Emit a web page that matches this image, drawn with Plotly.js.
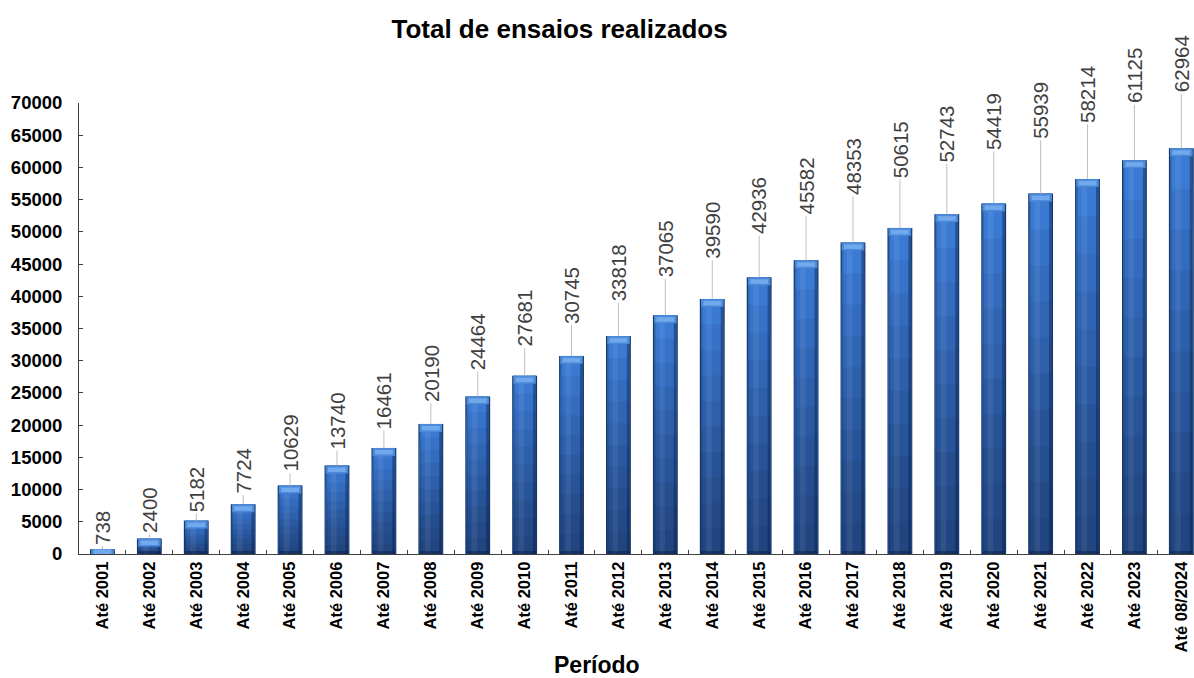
<!DOCTYPE html>
<html>
<head>
<meta charset="utf-8">
<script src="https://cdn.plot.ly/plotly-3.0.1.min.js"></script>
<style>html,body{margin:0;padding:0;background:#fff;}#chart{width:1194px;height:678px;}</style>
</head>
<body>
<div id="chart"></div>
<script>
const periods = ["Até 2001","Até 2002","Até 2003","Até 2004","Até 2005","Até 2006","Até 2007","Até 2008","Até 2009","Até 2010","Até 2011","Até 2012","Até 2013","Até 2014","Até 2015","Até 2016","Até 2017","Até 2018","Até 2019","Até 2020","Até 2021","Até 2022","Até 2023","Até 08/2024"];
const totals = [738,2400,5182,7724,10629,13740,16461,20190,24464,27681,30745,33818,37065,39590,42936,45582,48353,50615,52743,54419,55939,58214,61125,62964];
const yTicks = [0,5000,10000,15000,20000,25000,30000,35000,40000,45000,50000,55000,60000,65000,70000];

const font = "Liberation Sans, Arial, sans-serif";
const PX = 70000 / 451; // data units per pixel (approx) for bevel sizes

function layer(opts) {
  const t = {
    type: "bar", x: periods,
    y: totals.map(opts.y), width: opts.width,
    marker: {color: opts.color, line: {width: 0}},
    hoverinfo: "skip", showlegend: false
  };
  if (opts.base) t.base = totals.map(opts.base);
  if (opts.offset !== undefined) t.offset = opts.offset;
  return t;
}

const traces = [];
// dark outline
traces.push(layer({width: 0.53, color: "#163765", y: v => v}));
// body with vertical gradient (stepped)
const steps = [
  [1.00, "#3A7AD3"], [0.90, "#3672C8"], [0.80, "#336BBE"], [0.70, "#3065B4"],
  [0.60, "#2D5FAA"], [0.50, "#2A59A1"], [0.40, "#275398"], [0.30, "#254E8F"],
  [0.20, "#234987"], [0.10, "#214580"]
];
steps.forEach(([f, c]) => traces.push(layer({width: 0.48, color: c, y: v => v * f})));
// side shading
traces.push(layer({width: 0.06, offset: 0.18, color: "rgba(8,25,60,0.40)", y: v => v}));
traces.push(layer({width: 0.035, offset: -0.24, color: "rgba(8,25,60,0.18)", y: v => v}));
traces.push(layer({width: 0.12, offset: -0.13, color: "rgba(255,255,255,0.07)", y: v => v}));
// bottom bevel
traces.push(layer({width: 0.48, color: "rgba(12,35,75,0.55)", y: v => Math.min(v, 3 * PX)}));
// top bevel
traces.push(layer({width: 0.48, color: "#4C8AD9", base: v => Math.max(0, v - 8 * PX), y: v => Math.min(v, 8 * PX)}));
traces.push(layer({width: 0.38, color: "#72A9EC", base: v => Math.max(0, v - 6.5 * PX), y: v => Math.min(v, 4.5 * PX)}));

const annotations = totals.map((v, i) => {
  const gap = Math.min(54, 2 + v / 1100);
  const half = String(v).length * 5.7 + 2;
  return {
    x: periods[i], y: v, xref: "x", yref: "y",
    text: String(v), textangle: -90,
    showarrow: true, arrowhead: 0, arrowwidth: 1, arrowcolor: "#BFBFBF",
    ax: 0, ay: -(gap + half), standoff: 0,
    font: {family: font, size: 20.5, color: "#3F3F3F"}
  };
});
annotations.push({
  text: "Período", xref: "paper", yref: "paper", x: 0.4646, y: 0,
  yshift: -111, showarrow: false, xanchor: "center", yanchor: "middle",
  font: {family: font, size: 23, color: "#000", weight: "bold"}
});

const layout = {
  width: 1194, height: 678,
  margin: {l: 79, r: 0, t: 103, b: 124},
  paper_bgcolor: "#fff", plot_bgcolor: "#fff",
  barmode: "overlay",
  title: {text: "Total de ensaios realizados", x: 0.431, xref: "paper", xanchor: "center", y: 0.958, yanchor: "middle",
          font: {family: font, size: 26, color: "#000", weight: "bold"}},
  xaxis: {
    type: "category", range: [-0.5, 23.27], tickson: "boundaries",
    ticks: "inside", ticklen: 4, tickcolor: "#404040",
    showline: true, linecolor: "#404040", linewidth: 1, showgrid: false, zeroline: false,
    tickangle: -90, tickfont: {family: font, size: 16.5, color: "#000", weight: "bold"},
    automargin: false
  },
  yaxis: {
    range: [0, 70000], tickvals: yTicks, ticktext: yTicks.map(String),
    ticks: "inside", ticklen: 4, tickcolor: "#404040",
    showline: true, linecolor: "#404040", linewidth: 1, showgrid: false, zeroline: false,
    tickfont: {family: font, size: 18.5, color: "#000", weight: "bold"}, ticklabelstandoff: 12,
    automargin: false
  },
  annotations: annotations
};
Plotly.newPlot("chart", traces, layout, {staticPlot: true});
</script>
</body>
</html>
